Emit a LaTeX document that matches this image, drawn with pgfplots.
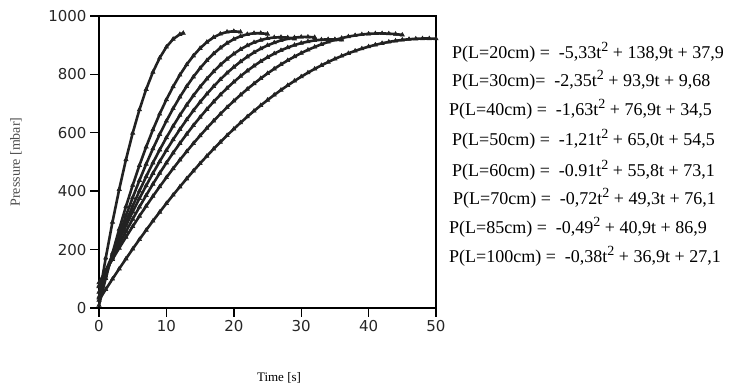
\documentclass[border=0pt]{standalone}
\usepackage{fontspec}
\setmainfont{Liberation Serif}
\newfontfamily\tickfont{DejaVu Sans}
\usepackage{pgfplots}
\pgfplotsset{compat=1.18}
\definecolor{curve}{HTML}{222222}
\pgfplotsset{crv/.style={color=curve, line width=2.6pt, mark=triangle*, mark size=2.4pt, mark options={solid, fill=curve, line width=0.6pt}}}
\newcommand{\sq}{\raisebox{0.42em}{\fontsize{14}{14}\selectfont 2}}
\begin{document}
\begin{tikzpicture}[x=1pt,y=1pt]
\useasboundingbox (0,0) rectangle (731,387);
\begin{axis}[
  at={(99pt,79pt)}, anchor=south west,
  width=337pt, height=292pt, scale only axis,
  xmin=0, xmax=50, ymin=0, ymax=1000,
  xtick={0,10,20,30,40,50}, ytick={0,200,400,600,800,1000},
  tick pos=left, tick align=outside, major tick length=9pt,
  tick style={line width=1.4pt, black},
  axis line style={line width=2pt, black},
  ticklabel style={font=\tickfont\fontsize{15}{15}\selectfont, text=black!85},
  /pgf/number format/assume math mode=true,
  /pgf/number format/1000 sep={},
  clip=false,
]
% L=20cm
\addplot[crv] table {
0 37.9
1 171.5
2 294.4
3 406.6
4 508.2
5 599.2
6 679.4
7 749.0
8 808.0
9 856.3
10 893.9
11 920.9
12 937.2
12.5 941.3
};
% L=30cm
\addplot[crv] table {
0 9.7
1 101.2
2 188.1
3 270.2
4 347.7
5 420.4
6 488.5
7 551.8
8 610.5
9 664.4
10 713.7
11 758.2
12 798.1
13 833.2
14 863.7
15 889.4
16 910.5
17 926.8
18 938.5
19 945.4
20 947.7
21 945.2
};
% L=40cm
\addplot[crv] table {
0 34.5
1 109.8
2 181.8
3 250.5
4 316.0
5 378.3
6 437.2
7 492.9
8 545.4
9 594.6
10 640.5
11 683.2
12 722.6
13 758.7
14 791.6
15 821.3
16 847.6
17 870.7
18 890.6
19 907.2
20 920.5
21 930.6
22 937.4
23 940.9
24 941.2
25 938.3
};
% L=50cm
\addplot[crv] table {
0 54.5
1 118.3
2 179.7
3 238.6
4 295.1
5 349.3
6 400.9
7 450.2
8 497.1
9 541.5
10 583.5
11 623.1
12 660.3
13 695.0
14 727.3
15 757.3
16 784.7
17 809.8
18 832.5
19 852.7
20 870.5
21 885.9
22 898.9
23 909.4
24 917.5
25 923.3
26 926.5
27 927.4
28 925.9
29 921.9
};
% L=60cm
\addplot[crv] table {
0 73.1
1 128.0
2 181.1
3 232.3
4 281.7
5 329.4
6 375.1
7 419.1
8 461.3
9 501.6
10 540.1
11 576.8
12 611.7
13 644.7
14 675.9
15 705.4
16 732.9
17 758.7
18 782.7
19 804.8
20 825.1
21 843.6
22 860.3
23 875.1
24 888.1
25 899.4
26 908.7
27 916.3
28 922.1
29 926.0
30 928.1
31 928.4
32 926.9
};
% L=70cm
\addplot[crv] table {
0 76.1
1 124.7
2 171.8
3 217.5
4 261.8
5 304.6
6 346.0
7 385.9
8 424.4
9 461.5
10 497.1
11 531.3
12 564.0
13 595.3
14 625.2
15 653.6
16 680.6
17 706.1
18 730.2
19 752.9
20 774.1
21 793.9
22 812.2
23 829.1
24 844.6
25 858.6
26 871.2
27 882.3
28 892.0
29 900.3
30 907.1
31 912.5
32 916.4
33 918.9
34 920.0
35 919.6
36 917.8
};
% L=85cm
\addplot[crv] table {
0 86.9
1 127.3
2 166.7
3 205.2
4 242.7
5 279.2
6 314.7
7 349.2
8 382.7
9 415.3
10 446.9
11 477.5
12 507.1
13 535.8
14 563.5
15 590.2
16 615.9
17 640.6
18 664.3
19 687.1
20 708.9
21 729.7
22 749.5
23 768.4
24 786.3
25 803.2
26 819.1
27 834.0
28 847.9
29 860.9
30 872.9
31 883.9
32 893.9
33 903.0
34 911.1
35 918.2
36 924.3
37 929.4
38 933.5
39 936.7
40 938.9
41 940.1
42 940.3
43 939.6
44 937.9
45 935.2
};
% L=100cm
\addplot[crv] table {
0 27.1
1 63.6
2 99.4
3 134.4
4 168.6
5 202.1
6 234.8
7 266.8
8 298.0
9 328.4
10 358.1
11 387.0
12 415.2
13 442.6
14 469.2
15 495.1
16 520.2
17 544.6
18 568.2
19 591.0
20 613.1
21 634.4
22 655.0
23 674.8
24 693.8
25 712.1
26 729.6
27 746.4
28 762.4
29 777.6
30 792.1
31 805.8
32 818.8
33 831.0
34 842.4
35 853.1
36 863.0
37 872.2
38 880.6
39 888.2
40 895.1
41 901.2
42 906.6
43 911.2
44 915.0
45 918.1
46 920.4
47 922.0
48 922.8
49 922.8
50 922.1
};
\end{axis}
% axis titles
\node[rotate=90, text=black!70, font=\fontsize{14}{14}\selectfont] at (16,225) {Pressure [mbar]};
\node[anchor=base, font=\fontsize{13}{13}\selectfont] at (279,5) {Time [s]};
% equations
\begin{scope}[every node/.style={anchor=base west, inner sep=0pt, font=\fontsize{18}{18}\selectfont}]
\node at (452,328) {P(L=20cm) =\ \ -5,33t\sq{} + 138,9t + 37,9};
\node at (452,300) {P(L=30cm)=\ \ -2,35t\sq{} + 93,9t + 9,68};
\node at (449,271) {P(L=40cm) =\ \ -1,63t\sq{} + 76,9t + 34,5};
\node at (452,241) {P(L=50cm) =\ \ -1,21t\sq{} + 65,0t + 54,5};
\node at (452,210) {P(L=60cm) =\ \ -0.91t\sq{} + 55,8t + 73,1};
\node at (453,182) {P(L=70cm) =\ \ -0,72t\sq{} + 49,3t + 76,1};
\node at (449,153) {P(L=85cm) =\ \ -0,49\sq{} + 40,9t + 86,9};
\node at (449,124) {P(L=100cm) =\ \ -0,38t\sq{} + 36,9t + 27,1};
\end{scope}
\end{tikzpicture}
\end{document}
